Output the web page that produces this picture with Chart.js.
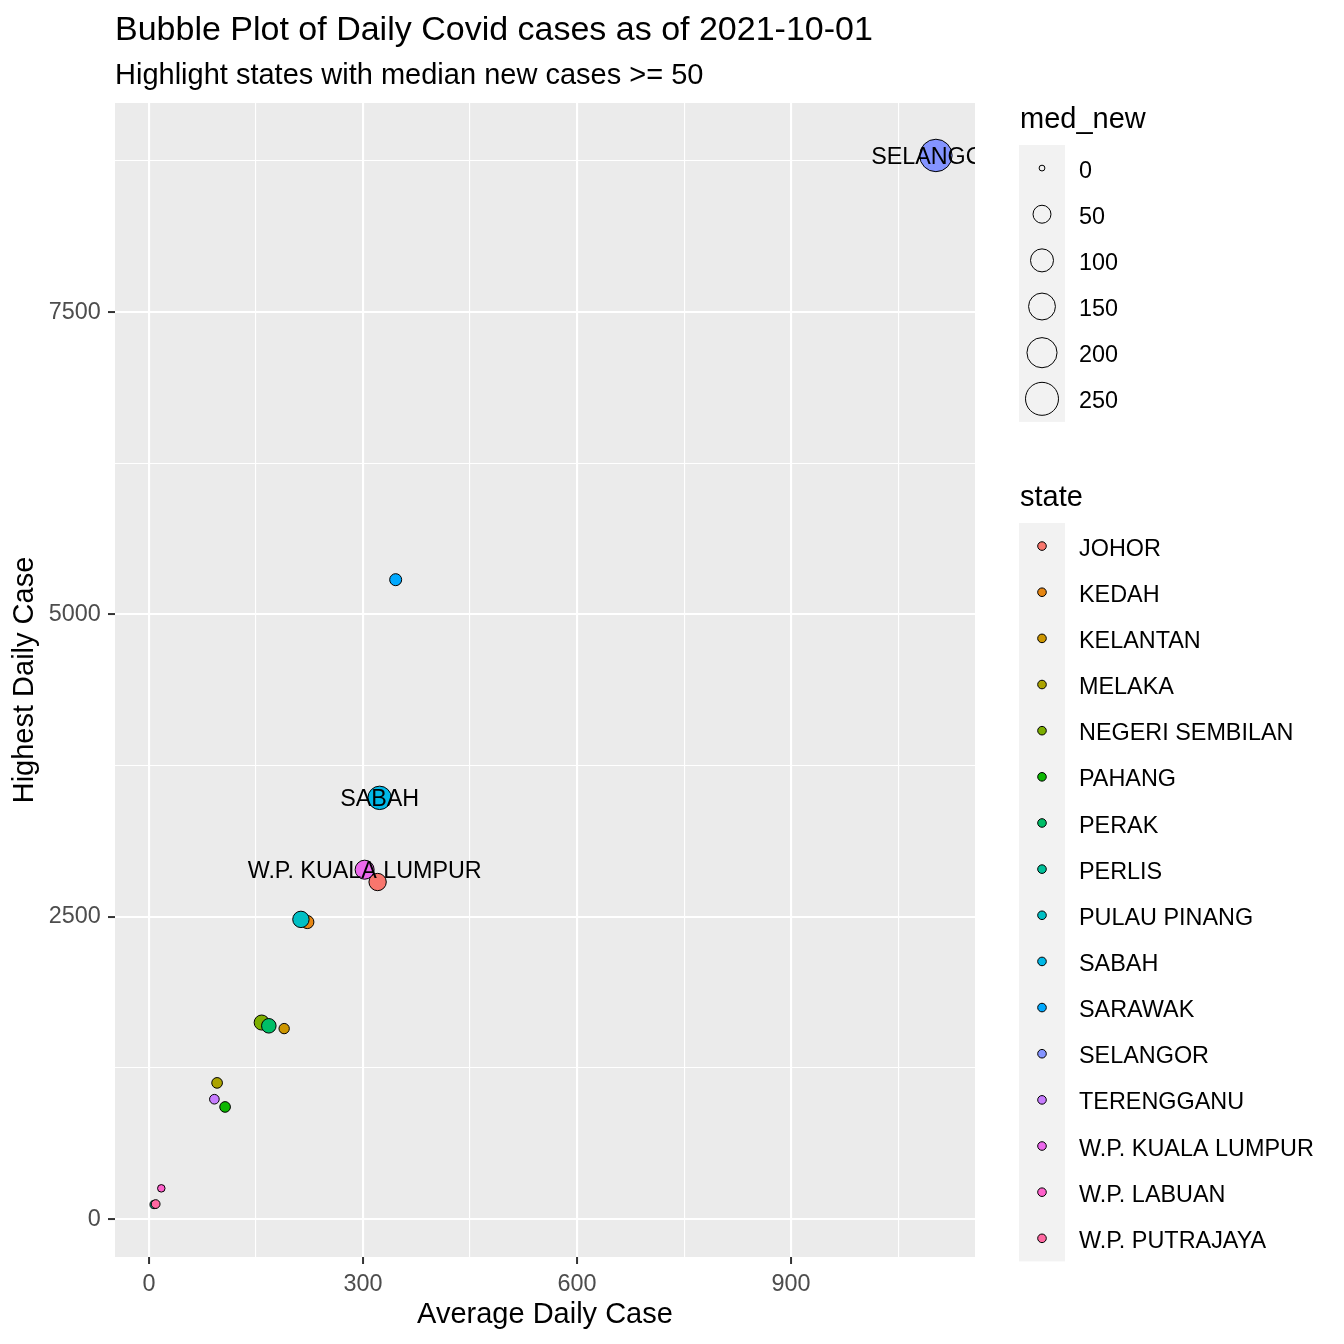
<!DOCTYPE html>
<html>
<head>
<meta charset="utf-8">
<title>Bubble Plot of Daily Covid cases</title>
<script src="https://cdn.jsdelivr.net/npm/chart.js@4.4.1/dist/chart.umd.min.js"></script>
<style>
  html, body { margin: 0; padding: 0; background: #ffffff; }
  canvas { display: block; }
</style>
</head>
<body>
<canvas id="chart" width="1344" height="1344"></canvas>
<script>
// data
const states = [
  "JOHOR", "KEDAH", "KELANTAN", "MELAKA", "NEGERI SEMBILAN", "PAHANG",
  "PERAK", "PERLIS", "PULAU PINANG", "SABAH", "SARAWAK", "SELANGOR",
  "TERENGGANU", "W.P. KUALA LUMPUR", "W.P. LABUAN", "W.P. PUTRAJAYA"
];
const avgDaily = [320.5, 222, 189.5, 95.5, 158, 106.7, 168, 7.2, 213, 323.3, 345.8, 1103, 91.7, 302.3, 17.3, 9.4];
const maxDaily = [2787, 2456, 1575, 1126, 1625, 927, 1598, 120, 2478, 3483, 5287, 8795, 991, 2889, 254, 124];
const medNew = [45, 18, 7, 8, 29, 8, 26, 2, 38, 105, 13, 240, 5, 59, 1, 3];

const xMajor = [0, 300, 600, 900];
const xMinor = [150, 450, 750, 1050];
const yMajor = [0, 2500, 5000, 7500];
const yMinor = [1250, 3750, 6250, 8750];
const sizeBreaks = [0, 50, 100, 150, 200, 250];
const highlightFrom = 50;

const FONT = "'Liberation Sans', Arial, sans-serif";
const CAP_MID = 0.358; // half the cap height, in em

// R's hcl() -> hex, so the hues match ggplot's default palette
function hcl(h, c, l) {
  const hr = h * Math.PI / 180;
  const U = c * Math.cos(hr), V = c * Math.sin(hr);
  const Y = 100 * (l > 7.999592 ? Math.pow((l + 16) / 116, 3) : l / 903.3);
  const u = U / (13 * l) + 0.1978398;
  const v = V / (13 * l) + 0.4683363;
  const X = 9.0 * Y * u / (4 * v);
  const Z = -X / 3 - 5 * Y + 3 * Y / v;
  const g = t => t > 0.00304 ? 1.055 * Math.pow(t, 1 / 2.4) - 0.055 : 12.92 * t;
  const rgb = [
    g((3.240479 * X - 1.537150 * Y - 0.498535 * Z) / 100),
    g((-0.969256 * X + 1.875992 * Y + 0.041556 * Z) / 100),
    g((0.055648 * X - 0.204043 * Y + 1.057311 * Z) / 100)
  ];
  return "#" + rgb.map(t => {
    const n = Math.round(255 * Math.min(1, Math.max(0, t)));
    return n.toString(16).padStart(2, "0");
  }).join("");
}

const colors = states.map((s, i) => hcl(15 + 360 * i / states.length, 100, 65));

// outer radius in px for a med_new value (area-like scaling)
function radiusFor(v) {
  return 3.4 + 0.86 * Math.sqrt(v);
}

// ggplot style 5% expansion
function expand(values) {
  const lo = Math.min(...values), hi = Math.max(...values);
  const pad = (hi - lo) * 0.05;
  return [lo - pad, hi + pad];
}
const [xLo, xHi] = expand(avgDaily);
const [yLo, yHi] = expand(maxDaily);

function withMinor(major, minor) {
  return (axis) => {
    axis.ticks = major.concat(minor).sort((a, b) => a - b).map(v => ({ value: v }));
  };
}

const panelBackground = {
  id: "panelBackground",
  beforeDraw(chart) {
    const { ctx, chartArea: a } = chart;
    ctx.save();
    ctx.fillStyle = "#ffffff";
    ctx.fillRect(0, 0, chart.width, chart.height);
    ctx.fillStyle = "#EBEBEB";
    ctx.fillRect(a.left, a.top, a.right - a.left, a.bottom - a.top);
    ctx.restore();
  }
};

const stateLabels = {
  id: "stateLabels",
  afterDatasetsDraw(chart) {
    const { ctx, chartArea: a } = chart;
    const meta = chart.getDatasetMeta(0);
    const size = 23.3;
    ctx.save();
    ctx.beginPath();
    ctx.rect(a.left, a.top, a.right - a.left, a.bottom - a.top);
    ctx.clip();
    ctx.font = `${size}px ${FONT}`;
    ctx.fillStyle = "#000000";
    ctx.textAlign = "center";
    ctx.textBaseline = "alphabetic";
    states.forEach((name, i) => {
      if (medNew[i] < highlightFrom) return;
      const pt = meta.data[i];
      ctx.fillText(name, pt.x, pt.y + CAP_MID * size);
    });
    ctx.restore();
  }
};

const sideLegends = {
  id: "sideLegends",
  afterDraw(chart) {
    const ctx = chart.ctx;
    const left = 1019, keyW = 46, row = 46.15, textX = 1079, textSize = 23.4;
    const textDy = CAP_MID * textSize + 1.2;
    ctx.save();
    ctx.textAlign = "left";
    ctx.textBaseline = "alphabetic";

    // med_new (size) legend
    ctx.fillStyle = "#000000";
    ctx.font = `29px ${FONT}`;
    ctx.fillText("med_new", 1020, 127.7);
    let top = 145;
    ctx.fillStyle = "#F2F2F2";
    ctx.fillRect(left, top, keyW, row * sizeBreaks.length);
    ctx.font = `${textSize}px ${FONT}`;
    sizeBreaks.forEach((b, i) => {
      const cy = top + row * (i + 0.5);
      ctx.beginPath();
      ctx.arc(left + keyW / 2, cy, radiusFor(b) - 0.5, 0, Math.PI * 2);
      ctx.lineWidth = 1;
      ctx.strokeStyle = "#000000";
      ctx.stroke();
      ctx.fillStyle = "#000000";
      ctx.fillText(String(b), textX, cy + textDy);
    });

    // state (colour) legend
    ctx.font = `29px ${FONT}`;
    ctx.fillText("state", 1020, 505.7);
    top = 523;
    ctx.fillStyle = "#F2F2F2";
    ctx.fillRect(left, top, keyW, row * states.length);
    ctx.font = `${textSize}px ${FONT}`;
    states.forEach((name, i) => {
      const cy = top + row * (i + 0.5);
      ctx.beginPath();
      ctx.arc(left + keyW / 2, cy, 4.3, 0, Math.PI * 2);
      ctx.fillStyle = colors[i];
      ctx.fill();
      ctx.lineWidth = 1;
      ctx.strokeStyle = "#000000";
      ctx.stroke();
      ctx.fillStyle = "#000000";
      ctx.fillText(name, textX, cy + textDy);
    });
    ctx.restore();
  }
};

const gridStyle = (major) => ({
  color: "#ffffff",
  lineWidth: (c) => major.includes(c.tick.value) ? 2.1 : 1.1,
  tickLength: 7,
  tickWidth: 2,
  tickColor: (c) => major.includes(c.tick.value) ? "#333333" : "rgba(0,0,0,0)"
});

new Chart(document.getElementById("chart"), {
  type: "bubble",
  data: {
    datasets: [{
      label: "state",
      data: states.map((s, i) => ({ x: avgDaily[i], y: maxDaily[i], r: radiusFor(medNew[i]) - 0.5 })),
      backgroundColor: colors,
      borderColor: "#000000",
      borderWidth: 1
    }]
  },
  options: {
    responsive: false,
    devicePixelRatio: 1,
    animation: false,
    events: [],
    layout: { padding: { left: 0, right: 369, top: 0, bottom: 0 } },
    scales: {
      x: {
        type: "linear",
        min: xLo,
        max: xHi,
        afterBuildTicks: withMinor(xMajor, xMinor),
        afterFit: (s) => { s.height = 87; },
        grid: gridStyle(xMajor),
        border: { display: false },
        ticks: {
          autoSkip: false,
          maxRotation: 0,
          padding: 6.2,
          color: "#4D4D4D",
          font: { family: FONT, size: 23.4 },
          callback: (v) => xMajor.includes(v) ? String(v) : ""
        },
        title: {
          display: true,
          text: "Average Daily Case",
          color: "#000000",
          font: { family: FONT, size: 29 },
          padding: { top: 0, bottom: 11.3 }
        }
      },
      y: {
        type: "linear",
        min: yLo,
        max: yHi,
        afterBuildTicks: withMinor(yMajor, yMinor),
        afterFit: (s) => { s.width = 115; },
        grid: gridStyle(yMajor),
        border: { display: false },
        ticks: {
          autoSkip: false,
          padding: 7.3,
          color: "#4D4D4D",
          font: { family: FONT, size: 23.4 },
          callback: (v) => yMajor.includes(v) ? String(v) : ""
        },
        title: {
          display: true,
          text: "Highest Daily Case",
          color: "#000000",
          font: { family: FONT, size: 29 },
          padding: { top: 7.9, bottom: 0 }
        }
      }
    },
    plugins: {
      legend: { display: false },
      tooltip: { enabled: false },
      title: {
        display: true,
        text: "Bubble Plot of Daily Covid cases as of 2021-10-01",
        align: "start",
        fullSize: false,
        color: "#000000",
        font: { family: FONT, size: 34, weight: "normal" },
        padding: { top: 10.2, bottom: 0 }
      },
      subtitle: {
        display: true,
        text: "Highlight states with median new cases >= 50",
        align: "start",
        fullSize: false,
        color: "#000000",
        font: { family: FONT, size: 29, weight: "normal" },
        padding: { top: 7.9, bottom: 9.3 }
      }
    }
  },
  plugins: [panelBackground, stateLabels, sideLegends]
});
</script>
</body>
</html>
